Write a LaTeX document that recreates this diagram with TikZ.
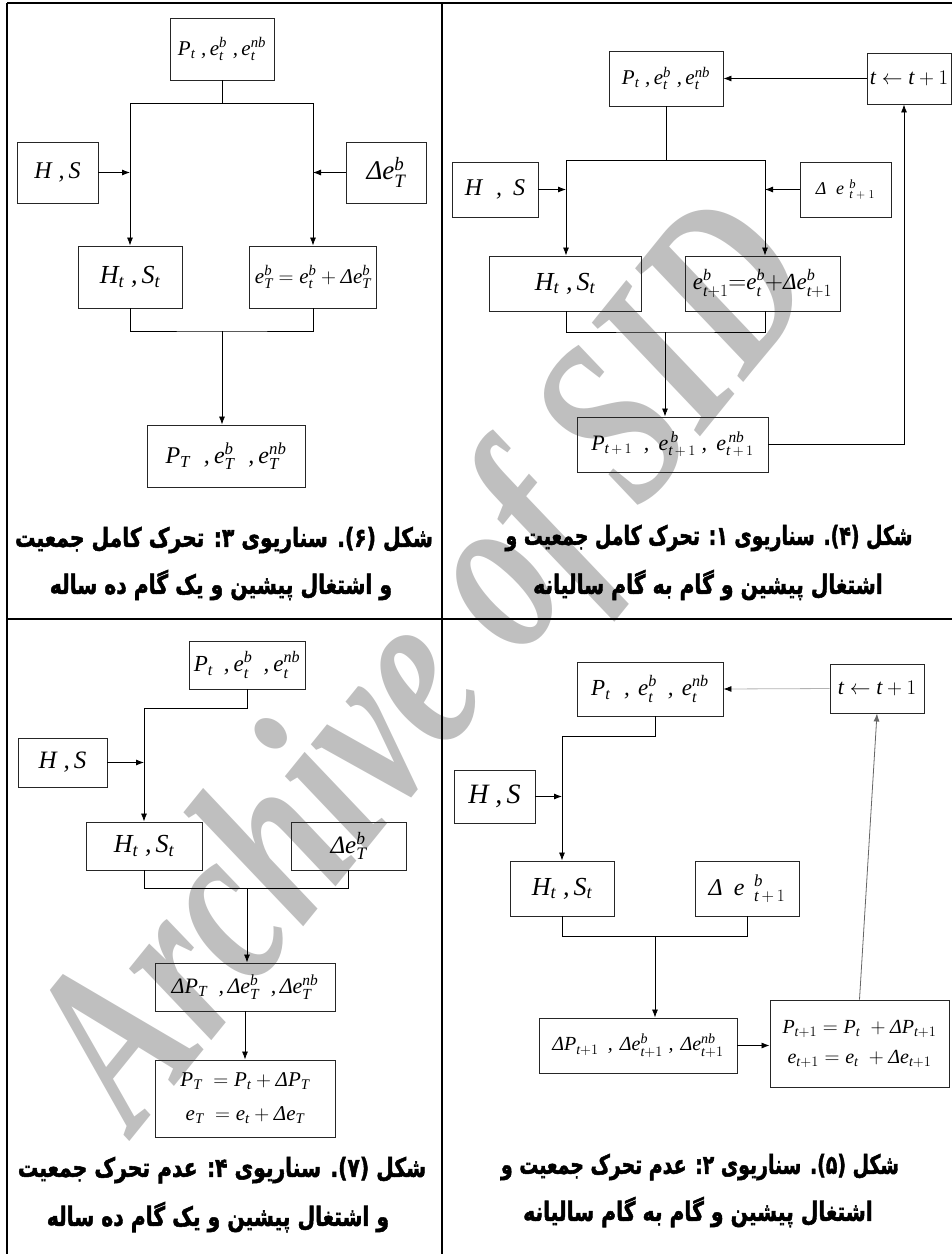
\documentclass[tikz,border=0pt]{standalone}
\usepackage{amsmath}
\usepackage{fontspec}
\usetikzlibrary{arrows.meta}
\setmainfont{Liberation Serif}
\newfontfamily\fa[Script=Arabic, BoldFeatures={FakeBold=2}]{DejaVu Sans}
\newfontfamily\wmfont{Liberation Serif}
\DeclareSymbolFont{letters}{TU}{\rmdefault}{m}{it}
\Umathcode`\,="6 "1 "2C
\Umathcode`\1="7 "1 "31
\Umathchardef\Dt="0 "1 "394
\TeXXeTstate=1
\begin{document}
\begin{tikzpicture}[x=1pt,y=-1pt,
  bx/.style n args={2}{draw=black!85, line width=0.9pt, inner sep=0pt, minimum width=#1, minimum height=#2, align=center},
  fs/.style={font=\fontsize{#1}{#1}\selectfont},
  ln/.style={line width=0.8pt},
  arr/.style={line width=0.8pt,-{Latex[length=8pt,width=6pt]}},
  frm/.style={line width=2pt},
  captxt/.style={font=\fa\bfseries\fontsize{20.3}{22}\selectfont, inner sep=0pt, yscale=1.3},
  wmtxt/.style={text=black!25, font=\wmfont\bfseries\itshape\fontsize{176}{176}\selectfont, inner sep=0pt}]
\useasboundingbox (0,0) rectangle (952,1254);
% watermark
\node[wmtxt, rotate=51, yscale=1.35] (wmk) at (435,672) {Archive of SID};
% frame
\draw[frm] (7,3) -- (952,3);
\draw[frm] (7,3) -- (7,1254);
\draw[frm] (442,3) -- (442,1254);
\draw[frm] (7,619) -- (952,619);

% ---------- Figure 6 (top left)
\node[bx={104}{62}, fs=21] (A1) at (222,49) {$P_t\;,e^b_t\;,e^{nb}_t$};
\node[bx={81}{61}, fs=24] (A2) at (57.5,172.5) {$H\;,S$};
\node[bx={80}{61}, fs=27] (A3) at (386,172.5) {$\Dt e^b_T$};
\node[bx={104}{62}, fs=26] (A4) at (130,277) {$H_t\;,S_t$};
\node[bx={127}{62}, fs=21] (A5) at (313,277) {$e^b_T=e^b_t+\Dt e^b_T$};
\node[bx={158}{62}, fs=24] (A6) at (226,456) {$P_T\;\;,e^b_T\;\;,e^{nb}_T$};
\coordinate (a1) at (222,103);
\coordinate (aL) at (130,103);
\coordinate (aR) at (313,103);
\coordinate (a2) at (222,331);
\draw[ln] (A1.south) -- (a1);
\draw[ln] (aL) -- (aR);
\draw[arr] (aL) -- (A4.north);
\draw[arr] (aR) -- (A5.north);
\draw[arr] (A2.east) -- (A2.east -| aL);
\draw[arr] (A3.west) -- (A3.west -| aR);
\draw[ln] (A4.south) |- (a2) -| (A5.south);
\draw[arr] (a2) -- (a2 |- A6.north);
\node[captxt] (c6a) at (224,540) {\beginR شکل (۶). سناریوی ۳: تحرک کامل جمعیت\endR};
\node[captxt] (c6b) at (221,585) {\beginR و اشتغال پیشین و یک گام ده ساله\endR};

% ---------- Figure 4 (top right)
\node[bx={114}{55}, fs=21] (B1) at (666,78.5) {$P_t\;,e^b_t\;,e^{nb}_t$};
\node[bx={84}{51}, fs=22] (B2) at (909,78.5) {$t\leftarrow t+1$};
\node[bx={86}{55}, fs=24] (B3) at (495,189.5) {$H\;\;,\;S$};
\node[bx={91}{55}, fs=18] (B4) at (845.5,189.5) {$\Dt\;\;e^{\;\,b}_{\;\,t\;+\;1}$};
\node[bx={152}{55}, fs=26] (B5) at (565,283.5) {$H_t\;,S_t$};
\node[bx={155}{55}, fs=23] (B6) at (762.5,283.5) {$e^b_{t+1}{=}e^b_t{+}\Dt e^b_{t+1}$};
\node[bx={191}{55}, fs=22] (B7) at (672.5,444.5) {$P_{t\,+\,1}\;\;,\;e^{\,b}_{t\,+\,1}\;,\;e^{\,nb}_{t\,+\,1}$};
\coordinate (b1) at (666,160);
\coordinate (bL) at (566,160);
\coordinate (bR) at (765,160);
\coordinate (b2) at (665,332);
\coordinate (b3) at (904,444.5);
\draw[arr] (B2.west) -- (B1.east);
\draw[ln] (B1.south) -- (b1);
\draw[ln] (bL) -- (bR);
\draw[arr] (bL) -- (bL |- B5.north);
\draw[arr] (bR) -- (bR |- B6.north);
\draw[arr] (B3.east) -- (B3.east -| bL);
\draw[arr] (B4.west) -- (B4.west -| bR);
\draw[ln] (bL |- B5.south) |- (b2) -| (bR |- B6.south);
\draw[arr] (b2) -- (b2 |- B7.north);
\draw[arr] (B7.east) -- (b3) -- (b3 |- B2.south);
\node[captxt, xscale=0.93] (c4a) at (709,538) {\beginR شکل (۴). سناریوی ۱: تحرک کامل جمعیت و\endR};
\node[captxt] (c4b) at (708,585) {\beginR اشتغال پیشین و گام به گام سالیانه\endR};

% ---------- Figure 7 (bottom left)
\node[bx={116}{48}, fs=23] (C1) at (247,665) {$P_t\;\,,e^b_t\;\,,e^{nb}_t$};
\node[bx={89}{49}, fs=25] (C2) at (62.5,762.5) {$H\;,S$};
\node[bx={116}{48}, fs=26] (C3) at (144,846) {$H_t\;,S_t$};
\node[bx={115}{48}, fs=25] (C4) at (348.5,846) {$\Dt e^b_T$};
\node[bx={180}{48}, fs=22] (C5) at (245,987) {$\Dt P_T\;\;,\Dt e^b_T\;\;,\Dt e^{nb}_T$};
\node[bx={180}{77}, fs=21] (C6) at (245,1098.5) {$P_T\;=P_t+\Dt P_T$\\[13pt]$e_T\;=e_t+\Dt e_T$};
\coordinate (cL) at (144,708);
\coordinate (c2) at (247,888);
\draw[arr] (C1.south) |- (cL) -- (C3.north);
\draw[arr] (C2.east) -- (C2.east -| cL);
\draw[ln] (C3.south) |- (c2) -| (C4.south);
\draw[arr] (c2) -- (c2 |- C5.north);
\draw[arr] (C5.south) -- (C6.north);
\node[captxt] (c7a) at (222,1170) {\beginR شکل (۷). سناریوی ۴: عدم تحرک جمعیت\endR};
\node[captxt] (c7b) at (218,1217) {\beginR و اشتغال پیشین و یک گام ده ساله\endR};

% ---------- Figure 5 (bottom right)
\node[bx={146}{54}, fs=23] (D1) at (650,689) {$P_t\;\;,\,e^b_t\;\,,\,e^{nb}_t$};
\node[bx={94}{49}, fs=22] (D2) at (877,688.5) {$t\leftarrow t+1$};
\node[bx={81}{53}, fs=28] (D3) at (494.5,796.5) {$H\;,S$};
\node[bx={104}{55}, fs=26] (D4) at (562,888.5) {$H_t\;,S_t$};
\node[bx={104}{55}, fs=24] (D5) at (747,888.5) {$\Dt\;\,e^{\;\;b}_{\;\;t\,+\,1}$};
\node[bx={198}{55}, fs=20] (D6) at (638,1045.5) {$\Dt P_{t+1}\;\,,\,\Dt e^b_{t+1}\;,\,\Dt e^{nb}_{t+1}$};
\node[bx={179}{87}, fs=20] (D7) at (859.5,1043.5) {$P_{t+1}=P_t\;+\Dt P_{t+1}$\\[10pt]$e_{t+1}=e_t\;+\Dt e_{t+1}$};
\coordinate (d1) at (655,736);
\coordinate (dL) at (562,736);
\coordinate (d2) at (655,936);
\draw[arr, draw=black!30, -{Latex[length=8pt,width=6pt,color=black]}] (D2.west) -- (D1.east);
\draw[arr] (d1 |- D1.south) -- (d1) -- (dL) -- (dL |- D4.north);
\draw[arr] (D3.east) -- (D3.east -| dL);
\draw[ln] (D4.south) |- (d2) -| (D5.south);
\draw[arr] (d2) -- (d2 |- D6.north);
\draw[arr] (D6.east) -- (D6.east -| D7.west);
\draw[arr, draw=black!60] (D7.north) -- (D2.south);
\node[captxt, xscale=0.93] (c5a) at (700,1167) {\beginR شکل (۵). سناریوی ۲: عدم تحرک جمعیت و\endR};
\node[captxt] (c5b) at (698,1212) {\beginR اشتغال پیشین و گام به گام سالیانه\endR};
\end{tikzpicture}
\end{document}
